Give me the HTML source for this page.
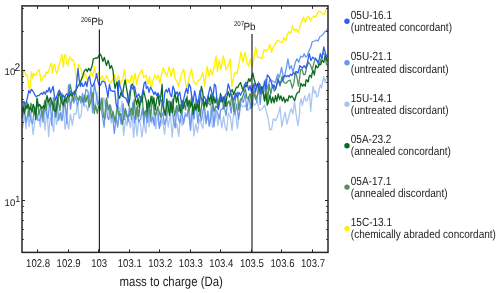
<!DOCTYPE html>
<html><head><meta charset="utf-8"><style>
html,body{margin:0;padding:0;background:#fff;width:500px;height:293px;overflow:hidden}
svg{display:block;will-change:transform;filter:blur(0.3px)}
text{font-family:"Liberation Sans",sans-serif;fill:#1c1c1c;text-rendering:geometricPrecision}
.tk{font-size:9.6px}
.sup{font-size:6.2px}
.tk2{font-size:10.3px}
.tk3{font-size:9px}
.pb{font-size:9.9px}
.xl{font-size:11.4px}
.lg{font-size:10px}
</style></head><body>
<svg width="500" height="293" viewBox="0 0 500 293">
<polyline points="22.3,79.5 23.5,71.9 24.4,69.4 25.7,75.7 26.9,74.4 27.8,79.5 28.8,87.0 29.8,89.6 30.7,80.7 31.6,71.9 32.6,78.2 33.9,73.2 35.2,75.7 36.4,74.4 37.7,70.6 38.9,69.4 40.2,75.7 41.2,81.4 42.5,78.2 43.7,75.7 45.0,77.0 46.3,71.9 47.5,73.2 48.8,70.6 50.5,64.4 51.5,63.2 52.4,73.3 53.7,65.7 54.6,64.4 55.6,70.7 56.8,73.3 58.1,69.5 59.4,63.2 60.6,60.6 61.6,54.3 62.5,58.1 63.4,66.9 64.4,55.6 65.4,54.3 66.3,60.6 67.6,65.7 68.8,60.6 69.7,56.8 70.7,58.1 71.7,60.6 72.7,59.4 73.9,61.9 75.1,69.5 76.4,78.3 77.3,80.8 78.3,64.4 79.6,66.9 81.0,68.7 82.7,78.6 85.2,73.7 87.8,81.9 91.2,72.2 92.9,76.4 94.6,66.5 96.3,78.3 98.0,72.2 100.6,79.7 102.3,75.6 104.0,81.5 106.6,75.5 108.3,80.3 110.8,83.4 113.4,77.5 114.6,74.6 116.0,81.6 118.5,75.6 120.2,83.3 122.8,79.5 124.5,69.7 126.2,82.4 127.9,79.6 129.6,83.2 131.7,75.0 133.4,82.7 135.1,73.1 136.8,84.9 138.5,75.5 140.2,73.4 141.9,69.8 143.7,77.6 146.2,75.1 147.9,84.4 149.6,76.6 151.3,88.4 153.0,80.7 154.7,74.9 156.5,79.0 158.2,75.2 159.9,83.3 161.6,73.7 163.3,67.8 165.0,72.0 166.7,76.2 169.2,67.0 171.0,76.2 173.5,67.6 175.2,79.0 176.9,80.9 178.6,86.5 181.2,75.2 183.8,69.1 185.5,82.7 186.7,89.0 189.3,77.2 191.5,69.0 193.5,81.4 196.1,84.7 197.8,80.9 200.4,79.4 202.9,72.5 204.6,85.8 207.2,66.3 208.9,76.4 210.6,68.8 212.3,75.0 214.4,65.3 216.1,55.8 217.4,71.6 219.1,59.9 220.8,69.7 223.4,55.9 226.0,69.8 228.5,65.0 230.2,59.0 231.9,86.4 234.5,72.8 237.0,73.5 239.3,62.2 241.0,51.9 243.0,62.2 245.1,52.3 246.8,62.5 248.5,66.0 250.2,59.1 251.9,66.8 253.7,59.1 255.7,47.2 257.4,57.4 259.6,57.4 262.2,58.3 263.9,49.7 266.5,50.6 268.2,48.9 269.9,44.6 271.6,52.3 273.3,47.2 275.8,42.9 277.5,40.4 280.6,41.8 282.3,42.7 284.0,37.5 285.7,41.0 287.4,34.1 289.1,31.6 290.8,33.3 292.5,25.6 294.2,30.7 295.9,29.0 298.5,32.4 300.2,25.6 301.9,21.3 303.6,17.1 305.3,22.2 307.4,17.1 308.7,16.2 310.4,20.5 312.1,17.9 313.8,16.2 315.5,17.1 317.2,13.7 319.0,11.1 320.7,11.9 322.4,13.7 324.1,14.5 325.8,10.2 327.5,7.7" fill="none" stroke="#fff000" stroke-width="1.3" stroke-linejoin="round"/>
<polyline points="22.5,128.7 24.6,113.6 26.0,128.7 27.8,111.4 29.1,126.8 31.0,112.1 33.1,134.6 35.1,119.4 36.8,114.0 38.7,115.8 40.3,126.8 42.0,111.5 43.4,108.2 45.0,130.0 47.0,108.7 48.6,136.8 50.1,117.9 51.8,122.0 53.7,131.7 55.0,105.0 56.4,124.7 57.8,118.8 59.6,113.3 61.1,120.7 63.1,104.2 65.1,129.4 66.9,118.5 68.5,128.9 70.4,114.1 72.3,125.2 74.1,113.6 76.0,114.0 77.3,103.4 79.4,118.7 81.3,114.7 82.8,93.2 84.2,106.8 86.1,104.9 87.8,110.9 89.9,100.1 91.7,98.1 93.7,103.3 95.5,107.0 96.9,92.3 98.7,106.6 100.4,98.9 102.4,109.0 103.9,97.7 105.8,109.0 107.3,102.5 109.3,113.3 111.3,123.0 112.9,112.9 114.6,123.0 116.6,117.2 118.6,106.6 120.6,111.2 122.1,101.3 123.6,135.4 125.6,119.2 127.0,125.5 128.6,117.5 130.5,127.8 132.0,111.0 133.6,137.4 135.4,117.0 137.0,136.0 138.7,119.1 140.5,124.4 141.9,137.2 143.9,122.0 145.9,133.2 147.3,107.8 148.9,127.0 150.3,109.1 151.9,123.5 153.8,108.7 155.8,129.0 157.6,113.6 158.9,125.5 160.6,125.8 162.5,119.3 164.6,134.3 166.7,114.3 168.3,127.1 170.2,113.0 172.3,136.9 174.0,115.1 175.6,128.1 176.8,123.6 178.8,136.4 180.4,115.1 182.2,125.7 183.8,121.7 185.2,112.6 187.1,116.8 188.6,105.1 189.9,125.0 191.9,108.3 193.9,135.9 195.8,124.0 197.5,132.3 199.3,119.3 201.1,123.7 202.8,128.2 204.5,110.7 205.9,124.2 207.6,115.3 209.6,125.5 211.0,105.6 212.4,127.5 214.4,122.7 216.3,112.6 217.9,125.4 219.8,113.7 221.8,127.9 223.6,116.3 225.2,127.3 226.7,130.7 228.3,112.9 230.4,117.3 232.0,130.4 233.9,109.8 235.6,114.7 237.5,128.3 240.0,103.5 242.6,106.9 245.1,105.2 247.7,110.4 249.4,108.7 251.9,101.8 254.5,105.2 257.1,101.8 259.6,110.4 262.2,108.7 264.7,105.2 266.5,112.1 268.2,118.9 269.9,130.0 271.6,129.1 273.3,118.9 275.8,120.6 278.4,113.8 280.1,107.0 281.8,126.6 283.5,118.9 285.2,112.1 286.9,124.0 289.5,113.8 291.2,108.7 292.9,113.8 294.6,101.8 296.3,115.5 298.0,125.7 299.7,112.1 300.0,103.0 301.2,99.0 302.4,105.3 303.6,100.0 304.8,95.8 306.0,101.0 307.2,100.6 308.3,96.0 309.5,93.4 310.7,111.3 312.0,97.0 313.1,86.3 314.3,93.0 315.5,91.0 316.7,97.0 317.9,95.8 319.1,90.0 320.3,85.0 321.5,88.0 322.7,81.5 323.9,76.7 325.1,82.0 326.3,79.1 327.5,77.0" fill="none" stroke="#a9c6f2" stroke-width="1.3" stroke-linejoin="round"/>
<polyline points="22.5,117.0 24.3,107.0 25.9,122.3 27.9,113.8 29.3,109.2 30.6,119.8 32.6,123.9 34.0,111.3 36.0,109.6 37.8,120.2 39.9,120.4 41.5,111.2 43.1,122.2 44.7,107.7 46.8,115.1 48.1,118.2 50.0,98.5 51.8,125.2 53.4,97.3 55.3,116.8 57.0,100.1 58.5,120.3 60.6,112.1 62.0,120.7 63.4,111.5 64.9,99.4 66.7,123.1 68.5,84.9 70.5,109.4 72.3,95.4 73.7,103.0 75.5,96.6 77.6,106.1 79.4,95.8 80.9,103.2 82.4,94.0 83.8,105.0 85.9,89.3 87.9,91.3 89.3,101.9 90.9,86.7 92.6,112.7 94.3,83.1 96.3,94.7 97.7,104.5 99.5,100.9 100.9,107.1 102.5,117.0 104.1,127.2 106.1,99.4 107.4,117.0 108.8,119.6 110.4,105.2 112.4,113.0 114.3,133.4 116.3,117.6 117.7,127.2 119.4,111.2 121.1,124.1 123.1,103.8 124.5,119.3 126.0,110.6 128.1,121.5 129.4,106.0 131.5,119.4 132.8,102.1 134.4,122.9 136.5,107.6 138.6,122.0 140.6,119.1 142.5,108.2 143.8,123.9 145.4,110.8 147.2,122.5 149.3,105.6 150.8,121.7 152.9,117.1 154.3,125.7 155.8,112.6 157.8,107.8 159.3,128.4 161.4,116.8 162.7,112.8 164.6,124.7 166.8,116.2 168.8,103.3 170.5,112.5 172.2,111.2 173.9,122.9 175.2,127.6 176.9,105.4 178.4,118.9 179.9,122.9 181.6,109.8 183.5,123.7 185.2,115.1 186.9,115.9 188.5,108.2 190.5,130.4 192.0,111.7 194.0,119.2 195.8,98.8 197.8,123.0 199.5,110.0 201.3,121.0 203.0,110.6 204.4,105.5 206.2,122.8 207.9,110.9 209.2,126.3 210.9,117.6 212.2,105.2 214.0,126.8 215.3,109.4 217.2,111.6 219.3,118.9 220.7,109.7 222.0,109.4 224.0,105.4 226.0,115.6 227.7,102.4 229.3,100.9 231.1,113.2 232.9,99.2 234.8,114.9 236.7,104.0 238.5,119.4 239.9,110.3 241.3,97.9 243.3,102.4 245.2,93.8 246.8,110.0 248.8,96.5 250.9,108.7 252.9,86.0 254.7,92.2 256.8,102.4 258.6,81.8 260.1,104.4 262.1,86.5 264.0,91.1 265.5,79.2 267.5,88.7 270.0,79.2 272.6,81.0 275.1,82.7 277.7,74.1 279.4,77.5 281.6,67.3 283.7,79.2 286.2,69.0 287.9,58.8 289.6,69.0 291.3,65.6 293.0,72.4 295.3,62.2 297.0,58.8 298.7,62.2 300.7,56.2 302.8,57.1 304.1,53.7 305.8,57.1 307.5,55.4 309.2,50.2 311.0,46.8 312.1,41.8 314.7,41.0 316.4,40.1 318.1,41.0 319.8,36.7 321.5,35.8 323.2,34.1 324.9,31.6 326.6,30.7 327.5,29.0" fill="none" stroke="#6a98ee" stroke-width="1.3" stroke-linejoin="round"/>
<polyline points="22.5,118.3 24.0,101.3 25.7,109.5 27.4,102.4 28.9,116.3 30.9,103.2 32.5,107.3 33.9,114.6 36.0,107.8 37.4,99.3 38.9,115.0 40.8,105.8 42.7,116.3 44.7,100.5 46.3,110.1 47.6,98.3 49.7,106.8 51.2,101.1 53.0,110.5 54.6,98.6 55.9,117.2 57.8,97.8 59.9,110.5 61.9,93.1 63.4,107.1 65.3,97.1 66.6,102.8 68.0,102.2 70.1,84.1 71.8,92.5 73.3,101.1 74.9,91.5 76.4,95.7 78.3,100.4 80.1,96.6 81.7,98.5 83.1,102.3 84.5,95.1 85.9,102.0 87.3,95.5 89.2,107.1 91.1,100.2 92.8,92.5 94.3,113.7 95.6,105.3 97.3,113.4 98.6,105.9 100.2,109.8 101.9,97.8 103.5,116.6 104.8,119.0 106.6,97.9 108.3,109.9 109.6,104.9 111.4,118.0 113.0,111.5 115.1,121.5 117.2,107.2 119.1,115.3 120.6,113.6 122.4,124.4 123.9,115.5 125.3,108.5 127.2,116.9 129.3,115.6 131.2,108.1 132.7,114.7 134.2,99.7 135.8,119.3 137.3,105.6 138.8,116.6 140.8,97.3 142.5,100.7 143.8,115.6 145.4,110.7 147.3,117.1 148.6,102.2 150.6,117.8 152.6,96.3 154.5,114.3 155.8,115.1 157.8,106.3 159.4,112.6 160.7,117.1 162.1,100.3 164.0,113.9 165.4,115.6 167.3,103.9 169.2,100.9 171.0,111.1 172.7,99.2 174.6,116.0 176.6,105.6 178.7,111.4 180.0,104.5 181.8,113.3 183.5,101.2 185.5,109.9 187.1,95.8 189.0,111.4 190.3,103.8 191.8,96.1 193.5,111.5 195.1,103.1 197.1,107.6 198.7,100.7 200.4,116.2 202.3,98.7 203.9,109.5 205.7,101.0 207.1,99.4 208.7,103.5 210.4,105.0 212.4,96.2 213.9,111.3 215.9,106.1 217.4,108.0 219.3,98.4 220.7,102.1 222.3,98.1 223.7,109.0 225.1,98.0 226.4,106.1 228.5,101.2 230.3,105.7 232.0,94.3 233.9,111.4 235.7,96.1 237.4,92.2 238.8,109.6 240.3,99.7 242.0,98.5 243.9,93.0 245.4,89.0 246.8,97.4 248.1,98.7 250.2,93.7 252.2,107.1 253.6,91.3 255.5,99.1 257.1,95.8 258.4,92.1 260.0,84.7 261.3,93.9 262.8,91.3 264.6,101.3 266.2,83.8 267.6,101.4 269.1,84.5 270.9,94.0 272.6,84.2 274.3,91.0 276.0,88.7 277.9,77.6 280.0,86.0 282.1,76.3 284.1,82.9 286.1,83.2 288.2,80.9 290.2,80.2 292.3,88.0 293.9,82.9 295.4,71.6 296.9,77.0 298.4,86.0 299.4,80.2 300.5,69.6 302.1,69.6 303.6,74.7 305.1,74.5 306.6,67.5 308.6,62.1 310.7,65.5 312.2,70.2 313.8,63.4 315.4,57.9 316.9,60.4 318.9,65.7 321.0,59.3 323.1,52.8 325.1,55.2 326.3,64.1 327.5,65.5" fill="none" stroke="#4f9160" stroke-width="1.3" stroke-linejoin="round"/>
<polyline points="22.5,112.0 23.2,106.9 24.4,113.3 25.7,105.7 26.9,108.2 28.2,104.4 29.5,109.5 30.7,106.9 32.0,112.0 33.3,104.4 34.5,108.2 35.8,119.6 37.0,98.1 38.3,106.9 39.6,104.4 40.8,106.9 42.1,108.2 43.4,105.7 44.6,108.2 45.9,100.6 47.1,95.6 48.4,101.9 49.3,100.2 50.5,97.6 51.8,101.4 53.1,105.2 54.3,110.3 55.6,111.5 56.8,106.5 58.1,96.4 59.4,92.6 60.6,98.9 61.9,102.7 63.2,105.2 64.4,98.9 65.7,101.4 66.9,97.6 68.2,95.1 69.5,96.4 70.7,93.8 72.0,96.0 74.0,92.0 76.0,90.0 78.0,86.0 80.1,82.8 82.7,76.0 84.4,70.8 86.1,69.1 87.3,71.7 88.7,68.3 90.4,70.8 92.1,65.7 93.4,58.9 95.5,58.0 97.7,58.0 98.9,55.5 100.5,54.2 101.6,57.0 102.8,61.4 104.4,57.3 105.5,62.0 106.5,65.5 108.1,60.4 109.1,64.0 110.0,68.6 111.4,65.5 113.0,70.4 114.0,81.0 115.1,88.5 116.3,83.6 117.2,81.9 118.2,95.0 119.6,98.3 121.0,92.1 122.3,96.3 123.7,86.9 125.1,80.0 126.4,87.7 127.8,95.6 128.5,105.5 129.8,99.3 131.2,85.3 132.6,84.0 133.9,89.4 135.3,98.3 136.7,104.5 138.0,98.0 139.4,107.5 140.8,96.4 142.1,102.5 143.5,90.2 144.9,95.9 146.4,102.1 147.0,112.1 148.4,99.8 149.8,107.2 151.1,96.1 152.5,103.5 153.9,98.0 155.2,110.0 156.6,100.1 158.0,94.3 159.3,105.5 160.7,97.1 162.1,84.2 162.7,100.0 164.1,110.0 165.5,115.2 166.8,99.0 168.2,107.3 169.6,115.4 170.9,101.6 172.3,112.6 173.7,99.8 175.0,92.3 176.4,102.5 177.8,95.7 179.1,107.0 180.5,112.5 181.9,100.1 183.2,108.6 184.6,103.1 186.4,98.2 187.7,106.2 189.1,100.3 190.5,107.2 191.8,101.3 193.2,114.3 194.6,104.7 195.9,110.1 197.3,103.4 198.7,111.3 200.0,98.3 201.4,86.4 202.7,92.2 204.1,106.1 205.5,101.6 206.8,106.9 208.2,95.8 209.6,101.6 210.9,94.3 212.3,103.8 213.7,96.1 215.0,103.2 216.4,97.3 217.8,107.3 219.1,103.4 220.5,93.5 221.9,101.6 222.7,101.9 224.1,96.3 225.5,106.4 226.8,97.2 228.2,91.7 229.6,96.9 230.9,91.3 232.3,89.7 233.7,94.5 235.0,90.8 236.4,87.2 237.7,87.6 239.1,84.5 240.5,82.5 241.8,86.7 243.2,90.4 244.6,84.5 245.9,87.1 247.3,84.0 248.7,78.6 250.0,81.5 251.4,77.9 252.8,73.2 254.1,78.9 255.5,84.1 256.4,86.7 257.7,83.5 259.1,88.8 260.5,91.9 261.8,86.6 263.2,91.9 264.6,100.7 265.9,93.6 267.3,105.2 268.7,101.1 270.0,94.8 271.4,102.8 272.7,97.1 274.1,102.8 275.5,95.6 276.8,101.4 278.2,93.9 279.6,99.5 280.9,95.8 282.3,101.1 283.7,97.1 285.0,102.6 286.4,99.1 287.8,101.1 289.1,95.7 290.5,97.7 291.9,95.9 293.2,98.0 294.6,100.7 296.3,94.7 297.4,92.9 298.4,92.1 299.2,92.2 300.0,88.0 300.8,83.5 301.5,83.9 302.2,86.0 303.0,86.0 303.8,84.2 304.6,85.0 305.3,86.3 306.0,80.0 306.9,80.0 307.7,81.9 308.4,81.7 309.0,77.0 309.9,75.2 310.7,75.7 311.4,77.6 312.0,74.0 312.9,70.4 313.8,72.7 314.4,75.0 315.0,70.0 315.9,65.2 316.9,67.5 317.7,67.7 318.5,66.0 319.2,63.9 320.0,64.5 320.8,64.5 321.5,62.0 322.2,60.2 323.0,61.4 323.8,62.3 324.5,58.5 325.3,55.9 326.1,57.3 326.8,60.4 327.5,61.4" fill="none" stroke="#0a6b1e" stroke-width="1.3" stroke-linejoin="round"/>
<polyline points="22.5,103.0 23.8,101.9 25.7,104.4 27.6,96.8 28.8,90.5 30.1,93.0 31.4,89.3 32.6,90.5 33.9,93.0 35.2,95.6 36.4,96.8 37.7,95.6 38.9,95.6 40.2,94.3 41.5,93.0 42.7,94.3 44.0,91.8 45.3,94.3 46.5,90.5 47.8,91.8 49.3,87.5 50.5,92.6 51.8,90.0 53.1,86.3 54.3,95.1 55.6,100.2 56.8,96.4 58.1,92.6 59.4,90.0 60.6,93.8 61.9,97.6 63.2,95.1 64.4,97.6 65.7,95.1 66.9,93.8 68.2,95.1 69.5,92.6 70.7,91.3 72.0,93.8 73.3,92.6 74.5,95.1 75.8,92.6 77.1,77.6 78.0,68.5 79.1,78.9 80.4,86.6 81.7,82.8 83.0,86.6 84.3,85.3 85.6,81.5 86.9,86.6 88.2,78.9 89.5,76.3 90.8,84.0 92.0,86.6 93.3,85.3 94.6,81.5 95.9,77.6 96.6,73.7 97.9,81.5 99.2,85.3 100.5,85.3 102.3,81.1 104.9,82.0 106.6,89.1 108.0,97.5 109.4,84.4 110.7,90.3 112.8,91.4 114.8,91.0 116.2,104.6 117.6,108.7 118.9,80.4 120.3,87.1 121.7,91.8 123.7,97.1 125.7,97.8 127.8,102.9 129.8,91.6 131.2,85.9 132.6,89.1 134.6,86.5 136.7,97.5 138.7,93.9 140.8,100.0 142.8,91.3 144.2,83.2 145.5,81.8 146.4,88.5 147.7,86.6 149.1,92.3 150.5,87.2 152.5,90.8 153.9,94.5 155.2,91.9 156.6,95.4 158.0,92.9 159.3,96.1 160.7,99.4 162.1,101.5 163.4,106.1 164.8,92.5 166.2,89.4 167.5,92.4 168.9,88.2 170.3,94.7 171.6,96.8 173.0,86.2 174.4,90.1 175.7,94.5 177.1,91.9 178.4,95.3 179.8,92.1 181.2,102.0 182.5,106.5 183.9,98.3 185.0,93.3 186.4,88.4 187.7,93.6 189.1,83.9 190.5,87.0 191.8,97.2 193.2,102.2 194.6,90.8 195.9,96.7 197.3,103.5 198.7,98.7 200.0,90.4 201.4,99.1 202.7,100.9 204.1,96.3 205.5,98.9 206.8,102.0 208.9,92.3 210.3,86.6 211.6,92.0 213.0,96.5 214.4,84.1 215.7,85.8 217.1,101.4 218.4,109.6 219.8,101.6 221.2,95.4 222.5,98.6 224.1,101.7 225.5,94.6 226.8,93.5 228.2,83.8 229.6,88.2 231.5,96.2 233.7,100.0 235.5,93.2 237.5,97.8 239.0,92.4 240.5,95.2 241.8,92.3 243.2,91.0 244.6,85.8 245.9,82.1 247.3,84.4 248.7,90.2 250.0,85.7 251.4,91.9 252.8,87.5 254.1,83.5 255.5,92.0 256.9,85.7 258.2,87.3 259.6,83.5 260.5,93.9 261.8,90.0 263.2,88.2 264.6,81.2 265.9,88.5 267.3,74.9 268.7,76.4 270.0,78.9 271.4,82.3 272.7,87.8 274.1,85.0 275.5,89.1 276.8,85.0 278.2,79.6 279.6,83.7 280.9,82.3 282.3,80.9 283.7,76.8 285.0,75.5 286.4,76.8 287.8,75.5 289.1,76.8 290.5,74.1 291.9,75.5 293.2,72.7 294.6,74.1 296.4,71.6 298.0,73.0 299.9,65.6 302.4,68.2 304.1,65.6 305.8,68.2 307.5,62.2 309.2,53.7 311.0,60.5 312.7,57.1 314.4,58.8 316.9,60.5 318.6,62.2 320.3,53.7 322.0,58.8 323.8,46.8 325.5,53.7 327.2,57.1" fill="none" stroke="#2f5ff0" stroke-width="1.3" stroke-linejoin="round"/>
<line x1="99.4" y1="29.6" x2="99.4" y2="252.4" stroke="#262626" stroke-width="1.2"/>
<line x1="252.0" y1="34" x2="252.0" y2="252.4" stroke="#262626" stroke-width="1.2"/>
<rect x="22.0" y="5.9" width="306.0" height="246.5" fill="none" stroke="#262626" stroke-width="1.5"/>
<line x1="37.5" y1="252.4" x2="37.5" y2="249.4" stroke="#262626" stroke-width="1"/>
<line x1="37.5" y1="5.9" x2="37.5" y2="8.9" stroke="#262626" stroke-width="1"/>
<text transform="translate(38.07,266.50) scale(1,1.18)" class="tk" text-anchor="middle">102.8</text>
<line x1="68.5" y1="252.4" x2="68.5" y2="249.4" stroke="#262626" stroke-width="1"/>
<line x1="68.5" y1="5.9" x2="68.5" y2="8.9" stroke="#262626" stroke-width="1"/>
<text transform="translate(68.62,266.50) scale(1,1.18)" class="tk" text-anchor="middle">102.9</text>
<line x1="98.5" y1="252.4" x2="98.5" y2="249.4" stroke="#262626" stroke-width="1"/>
<line x1="98.5" y1="5.9" x2="98.5" y2="8.9" stroke="#262626" stroke-width="1"/>
<text transform="translate(99.17,266.50) scale(1,1.18)" class="tk" text-anchor="middle">103</text>
<line x1="129.5" y1="252.4" x2="129.5" y2="249.4" stroke="#262626" stroke-width="1"/>
<line x1="129.5" y1="5.9" x2="129.5" y2="8.9" stroke="#262626" stroke-width="1"/>
<text transform="translate(129.72,266.50) scale(1,1.18)" class="tk" text-anchor="middle">103.1</text>
<line x1="159.5" y1="252.4" x2="159.5" y2="249.4" stroke="#262626" stroke-width="1"/>
<line x1="159.5" y1="5.9" x2="159.5" y2="8.9" stroke="#262626" stroke-width="1"/>
<text transform="translate(160.28,266.50) scale(1,1.18)" class="tk" text-anchor="middle">103.2</text>
<line x1="190.5" y1="252.4" x2="190.5" y2="249.4" stroke="#262626" stroke-width="1"/>
<line x1="190.5" y1="5.9" x2="190.5" y2="8.9" stroke="#262626" stroke-width="1"/>
<text transform="translate(190.82,266.50) scale(1,1.18)" class="tk" text-anchor="middle">103.3</text>
<line x1="220.5" y1="252.4" x2="220.5" y2="249.4" stroke="#262626" stroke-width="1"/>
<line x1="220.5" y1="5.9" x2="220.5" y2="8.9" stroke="#262626" stroke-width="1"/>
<text transform="translate(221.37,266.50) scale(1,1.18)" class="tk" text-anchor="middle">103.4</text>
<line x1="251.5" y1="252.4" x2="251.5" y2="249.4" stroke="#262626" stroke-width="1"/>
<line x1="251.5" y1="5.9" x2="251.5" y2="8.9" stroke="#262626" stroke-width="1"/>
<text transform="translate(251.92,266.50) scale(1,1.18)" class="tk" text-anchor="middle">103.5</text>
<line x1="281.5" y1="252.4" x2="281.5" y2="249.4" stroke="#262626" stroke-width="1"/>
<line x1="281.5" y1="5.9" x2="281.5" y2="8.9" stroke="#262626" stroke-width="1"/>
<text transform="translate(282.47,266.50) scale(1,1.18)" class="tk" text-anchor="middle">103.6</text>
<line x1="312.5" y1="252.4" x2="312.5" y2="249.4" stroke="#262626" stroke-width="1"/>
<line x1="312.5" y1="5.9" x2="312.5" y2="8.9" stroke="#262626" stroke-width="1"/>
<text transform="translate(313.03,266.50) scale(1,1.18)" class="tk" text-anchor="middle">103.7</text>
<line x1="22.0" y1="252.5" x2="23.8" y2="252.5" stroke="#262626" stroke-width="1"/>
<line x1="328.0" y1="252.5" x2="326.2" y2="252.5" stroke="#262626" stroke-width="1"/>
<line x1="22.0" y1="239.5" x2="23.8" y2="239.5" stroke="#262626" stroke-width="1"/>
<line x1="328.0" y1="239.5" x2="326.2" y2="239.5" stroke="#262626" stroke-width="1"/>
<line x1="22.0" y1="229.5" x2="23.8" y2="229.5" stroke="#262626" stroke-width="1"/>
<line x1="328.0" y1="229.5" x2="326.2" y2="229.5" stroke="#262626" stroke-width="1"/>
<line x1="22.0" y1="220.5" x2="23.8" y2="220.5" stroke="#262626" stroke-width="1"/>
<line x1="328.0" y1="220.5" x2="326.2" y2="220.5" stroke="#262626" stroke-width="1"/>
<line x1="22.0" y1="212.5" x2="23.8" y2="212.5" stroke="#262626" stroke-width="1"/>
<line x1="328.0" y1="212.5" x2="326.2" y2="212.5" stroke="#262626" stroke-width="1"/>
<line x1="22.0" y1="206.5" x2="23.8" y2="206.5" stroke="#262626" stroke-width="1"/>
<line x1="328.0" y1="206.5" x2="326.2" y2="206.5" stroke="#262626" stroke-width="1"/>
<line x1="22.0" y1="200.5" x2="25.0" y2="200.5" stroke="#262626" stroke-width="1"/>
<line x1="328.0" y1="200.5" x2="325.0" y2="200.5" stroke="#262626" stroke-width="1"/>
<line x1="22.0" y1="161.5" x2="23.8" y2="161.5" stroke="#262626" stroke-width="1"/>
<line x1="328.0" y1="161.5" x2="326.2" y2="161.5" stroke="#262626" stroke-width="1"/>
<line x1="22.0" y1="138.5" x2="23.8" y2="138.5" stroke="#262626" stroke-width="1"/>
<line x1="328.0" y1="138.5" x2="326.2" y2="138.5" stroke="#262626" stroke-width="1"/>
<line x1="22.0" y1="122.5" x2="23.8" y2="122.5" stroke="#262626" stroke-width="1"/>
<line x1="328.0" y1="122.5" x2="326.2" y2="122.5" stroke="#262626" stroke-width="1"/>
<line x1="22.0" y1="109.5" x2="23.8" y2="109.5" stroke="#262626" stroke-width="1"/>
<line x1="328.0" y1="109.5" x2="326.2" y2="109.5" stroke="#262626" stroke-width="1"/>
<line x1="22.0" y1="99.5" x2="23.8" y2="99.5" stroke="#262626" stroke-width="1"/>
<line x1="328.0" y1="99.5" x2="326.2" y2="99.5" stroke="#262626" stroke-width="1"/>
<line x1="22.0" y1="90.5" x2="23.8" y2="90.5" stroke="#262626" stroke-width="1"/>
<line x1="328.0" y1="90.5" x2="326.2" y2="90.5" stroke="#262626" stroke-width="1"/>
<line x1="22.0" y1="82.5" x2="23.8" y2="82.5" stroke="#262626" stroke-width="1"/>
<line x1="328.0" y1="82.5" x2="326.2" y2="82.5" stroke="#262626" stroke-width="1"/>
<line x1="22.0" y1="76.5" x2="23.8" y2="76.5" stroke="#262626" stroke-width="1"/>
<line x1="328.0" y1="76.5" x2="326.2" y2="76.5" stroke="#262626" stroke-width="1"/>
<line x1="22.0" y1="70.5" x2="25.0" y2="70.5" stroke="#262626" stroke-width="1"/>
<line x1="328.0" y1="70.5" x2="325.0" y2="70.5" stroke="#262626" stroke-width="1"/>
<line x1="22.0" y1="31.5" x2="23.8" y2="31.5" stroke="#262626" stroke-width="1"/>
<line x1="328.0" y1="31.5" x2="326.2" y2="31.5" stroke="#262626" stroke-width="1"/>
<line x1="22.0" y1="8.5" x2="23.8" y2="8.5" stroke="#262626" stroke-width="1"/>
<line x1="328.0" y1="8.5" x2="326.2" y2="8.5" stroke="#262626" stroke-width="1"/>
<text transform="translate(4.60,74.80) scale(1,1.02)" class="tk">10</text><text transform="translate(14.50,71.30) scale(1,1.08)" class="tk2">2</text>
<text transform="translate(4.60,205.60) scale(1,1.02)" class="tk">10</text><text transform="translate(15.20,201.60) scale(1,1.0)" class="tk3">1</text>
<text transform="translate(80.90,21.50) scale(1,1.1)" class="sup">206</text><text transform="translate(91.20,24.80) scale(1,1.05)" class="pb">Pb</text>
<text transform="translate(233.90,26.10) scale(1,1.1)" class="sup">207</text><text transform="translate(243.40,29.50) scale(1,1.05)" class="pb">Pb</text>
<text transform="translate(119.60,285.60) scale(1,1.18)" class="xl">mass to charge (Da)</text>
<circle cx="347.0" cy="21.3" r="2.7" fill="#2f5ff0"/>
<text transform="translate(350.80,18.80) scale(1,1.18)" class="lg">05U-16.1</text>
<text transform="translate(350.80,31.10) scale(1,1.18)" class="lg">(untreated concordant)</text>
<circle cx="347.0" cy="62.8" r="2.7" fill="#6a98ee"/>
<text transform="translate(350.80,60.26) scale(1,1.18)" class="lg">05U-21.1</text>
<text transform="translate(350.80,72.56) scale(1,1.18)" class="lg">(untreated discordant)</text>
<circle cx="347.0" cy="104.2" r="2.7" fill="#a9c6f2"/>
<text transform="translate(350.80,101.72) scale(1,1.18)" class="lg">15U-14.1</text>
<text transform="translate(350.80,114.02) scale(1,1.18)" class="lg">(untreated discordant)</text>
<circle cx="347.0" cy="145.7" r="2.7" fill="#0a6b1e"/>
<text transform="translate(350.80,143.18) scale(1,1.18)" class="lg">05A-23.2</text>
<text transform="translate(350.80,155.48) scale(1,1.18)" class="lg">(annealed concordant)</text>
<circle cx="347.0" cy="187.1" r="2.7" fill="#4f9160"/>
<text transform="translate(350.80,184.64) scale(1,1.18)" class="lg">05A-17.1</text>
<text transform="translate(350.80,196.94) scale(1,1.18)" class="lg">(annealed discordant)</text>
<circle cx="347.0" cy="228.6" r="2.7" fill="#fff000"/>
<text transform="translate(350.80,226.10) scale(1,1.18)" class="lg">15C-13.1</text>
<text transform="translate(350.80,238.40) scale(1,1.18)" class="lg">(chemically abraded concordant)</text>
</svg>
</body></html>
